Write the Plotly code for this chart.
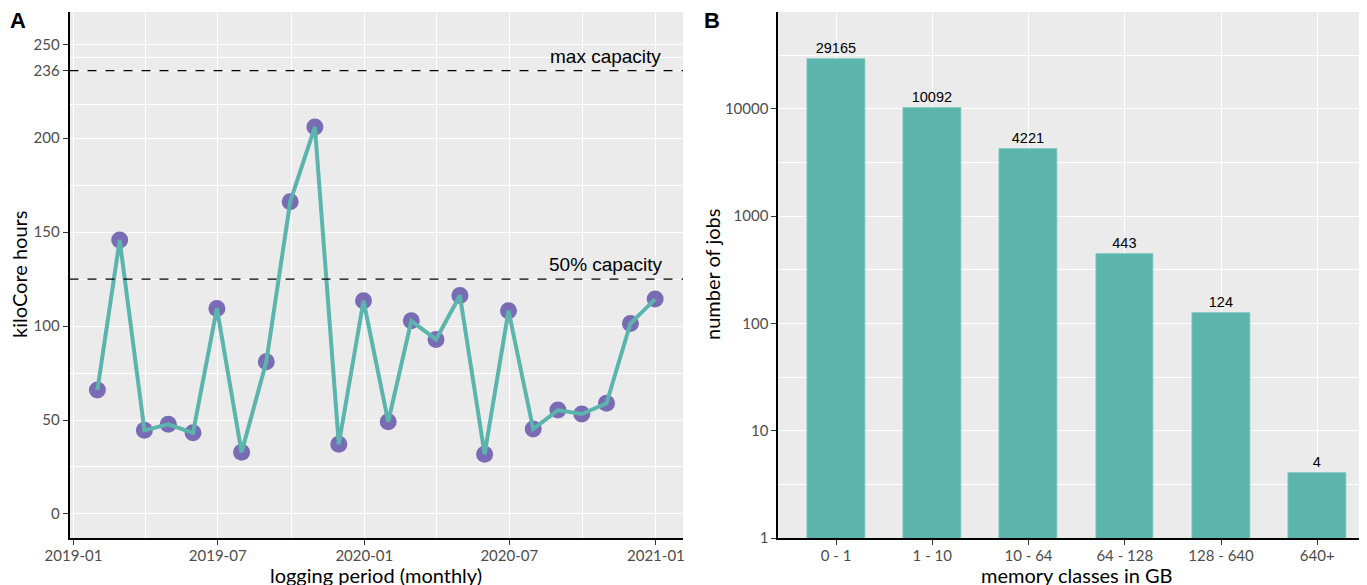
import plotly.graph_objects as go
import pandas as pd

# ---------------- data ----------------
months = pd.date_range("2019-01-31", periods=24, freq="ME")
kilocore_hours = [66, 145.8, 44.5, 47.7, 43.2, 109.4, 32.8, 81, 166.2, 206, 37.1, 113.5,
                  49.1, 102.8, 92.9, 116.3, 31.8, 108.2, 45.2, 55.3, 53.2, 58.9, 101.4, 114.4]
max_capacity = 236
half_capacity = 125

mem_classes = ["0 - 1", "1 - 10", "10 - 64", "64 - 128", "128 - 640", "640+"]
job_counts = [29165, 10092, 4221, 443, 124, 4]

left_yticks = [0, 50, 100, 150, 200, 236, 250]
left_yminor = [25, 75, 125, 175, 218, 243]
left_xticks = ["2019-01-01", "2019-07-01", "2020-01-01", "2020-07-01", "2021-01-01"]
left_xticklabels = ["2019-01", "2019-07", "2020-01", "2020-07", "2021-01"]
left_xminor = ["2019-04-01 12:00", "2019-10-01 12:00", "2020-04-01", "2020-10-01"]

decades = [1, 10, 100, 1000, 10000]
decade_labels = ["1", "10", "100", "1000", "10000"]
half_decades = [10 ** (k + 0.5) for k in range(5)]
fives = [5 * 10 ** k for k in range(5)]
short_logticks = [m * 10 ** k for k in range(5) for m in (2, 3, 4, 6, 7, 8, 9)]

# ---------------- style ----------------
W, H = 1367, 585
OFF = 8  # page body margin offset
BG = "#EBEBEB"
TEAL = "#5BB5AC"
PURPLE = "#7A6BB5"
TICKC = "#4D4D4D"
TICKFONT = dict(family="Lato", size=15, color=TICKC)
TITLEFONT = dict(family="Lato", size=20, color="black")


def px_x(p):
    return (p - OFF) / W


def px_y(p):
    return (H - (p - OFF)) / H


ydom = [px_y(538), px_y(12)]
x1dom = [px_x(69.5), px_x(683)]
x2dom = [px_x(778.3), 1.0]

fig = go.Figure()

# panel A: points underneath line
fig.add_trace(go.Scatter(x=months, y=kilocore_hours, mode="markers",
                         marker=dict(color=PURPLE, size=17), xaxis="x", yaxis="y",
                         showlegend=False, hoverinfo="skip"))
fig.add_trace(go.Scatter(x=months, y=kilocore_hours, mode="lines",
                         line=dict(color=TEAL, width=4), xaxis="x", yaxis="y",
                         showlegend=False))

# panel B
fig.add_trace(go.Bar(x=mem_classes, y=job_counts, width=0.6, xaxis="x2", yaxis="y2",
                     marker=dict(color=TEAL, line=dict(color="#86C9C1", width=0.8)),
                     text=[str(v) for v in job_counts], textposition="outside",
                     textfont=dict(family="Liberation Sans", size=14.5, color="black"),
                     cliponaxis=False, showlegend=False))

common_axis = dict(showline=True, linecolor="black", linewidth=1.8, gridcolor="white",
                   gridwidth=1.2, zeroline=False, tickfont=TICKFONT, ticks="outside",
                   ticklen=5, tickcolor="#333333", tickwidth=1.2, automargin=False)

fig.update_layout(
    width=W, height=H,
    margin=dict(l=0, r=0, t=0, b=0),
    paper_bgcolor="white", plot_bgcolor=BG,
    bargap=0,
    xaxis=dict(common_axis, domain=x1dom, anchor="y", type="date",
               range=["2018-12-27", "2021-02-04"], ticklabelstandoff=-2,
               tickmode="array", tickvals=left_xticks, ticktext=left_xticklabels,
               minor=dict(tickmode="array", tickvals=left_xminor, showgrid=True,
                          gridcolor="white", gridwidth=0.6, ticks="")),
    yaxis=dict(common_axis, domain=ydom, anchor="x", range=[-12.8, 267.2],
               tickmode="array", tickvals=left_yticks,
               minor=dict(tickmode="array", tickvals=left_yminor, showgrid=True,
                          gridcolor="white", gridwidth=0.6, ticks="")),
    xaxis2=dict(common_axis, domain=x2dom, anchor="y2", type="category",
                range=[-0.6, 5.6], ticklabelstandoff=-2),
    yaxis2=dict(common_axis, domain=ydom, anchor="x2", type="log", range=[0, 4.902],
                tickmode="array", tickvals=decades, ticktext=decade_labels,
                minor=dict(tickmode="array", tickvals=half_decades, showgrid=True,
                           gridcolor="white", gridwidth=0.6, ticks="")),
    yaxis3=dict(overlaying="y2", anchor="x2", type="log", range=[0, 4.902],
                tickmode="array", tickvals=decades, showticklabels=False,
                ticks="inside", ticklen=13, tickwidth=1.6, tickcolor="#333333",
                showgrid=False, zeroline=False, showline=False,
                minor=dict(tickmode="array", tickvals=fives, ticks="inside",
                           ticklen=8.5, tickwidth=1.6, tickcolor="#333333", showgrid=False)),
    yaxis4=dict(overlaying="y2", anchor="x2", type="log", range=[0, 4.902],
                tickmode="array", tickvals=short_logticks, showticklabels=False,
                ticks="inside", ticklen=4.5, tickwidth=1.6, tickcolor="#333333",
                showgrid=False, zeroline=False, showline=False),
)

# capacity reference lines
for level in (max_capacity, half_capacity):
    fig.add_shape(type="line", xref="x domain", x0=0, x1=1, yref="y", y0=level, y1=level,
                  line=dict(color="black", width=1.3, dash="dash"))

fig.add_annotation(text="max capacity", xref="x domain", x=(663 - 69.5) / (683 - 69.5),
                   xanchor="right", yref="y", y=max_capacity, yanchor="bottom", yshift=2,
                   showarrow=False, font=dict(family="Liberation Sans", size=19, color="black"))
fig.add_annotation(text="50% capacity", xref="x domain", x=(665 - 69.5) / (683 - 69.5),
                   xanchor="right", yref="y", y=half_capacity, yanchor="bottom", yshift=2,
                   showarrow=False, font=dict(family="Liberation Sans", size=19, color="black"))

# axis titles
fig.add_annotation(text="logging period (monthly)", xref="x domain", x=0.5, yref="paper",
                   y=px_y(575), xanchor="center", yanchor="middle", showarrow=False,
                   font=TITLEFONT)
fig.add_annotation(text="memory classes in GB", xref="x2 domain", x=0.5, yref="paper",
                   y=px_y(575), xanchor="center", yanchor="middle", showarrow=False,
                   font=TITLEFONT)
fig.add_annotation(text="kiloCore hours", xref="paper", x=px_x(19), yref="y domain", y=0.5,
                   xanchor="center", yanchor="middle", textangle=-90, showarrow=False,
                   font=TITLEFONT)
fig.add_annotation(text="number of jobs", xref="paper", x=px_x(712), yref="y2 domain", y=0.5,
                   xanchor="center", yanchor="middle", textangle=-90, showarrow=False,
                   font=TITLEFONT)

# panel letters
fig.add_annotation(text="<b>A</b>", xref="paper", yref="paper", x=px_x(18), y=px_y(20),
                   xanchor="center", yanchor="middle", showarrow=False,
                   font=dict(family="Liberation Sans", size=22, color="black"))
fig.add_annotation(text="<b>B</b>", xref="paper", yref="paper", x=px_x(712), y=px_y(20),
                   xanchor="center", yanchor="middle", showarrow=False,
                   font=dict(family="Liberation Sans", size=22, color="black"))

fig.write_html("out.html")
